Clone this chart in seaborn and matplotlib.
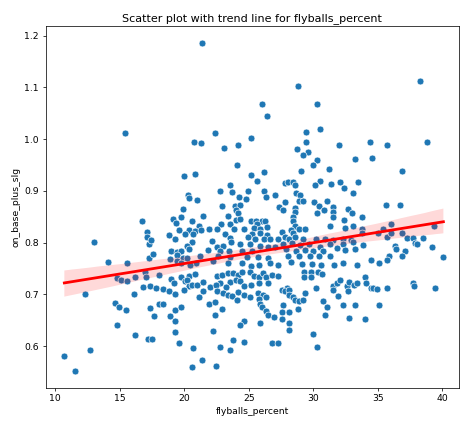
import numpy as np
import pandas as pd
import matplotlib
matplotlib.use("Agg")
import matplotlib.pyplot as plt
import seaborn as sns

flyballs_percent = [
    21.37, 38.27, 28.79, 26.02, 30.29, 26.39, 15.38, 22.38, 29.41, 30.50, 25.17,
    16.70, 17.11, 17.11, 17.29, 12.98, 14.09, 15.58, 17.29, 14.81, 15.07, 15.58, 16.20, 16.95,
    17.03, 16.80, 17.34, 12.30, 16.12, 14.60, 14.91, 15.48, 17.34, 14.81, 16.20, 17.19, 12.71,
    10.70, 11.53,
    20.75, 21.27, 19.98, 20.81, 20.29, 20.35, 21.01, 19.92, 19.10, 19.72, 20.60, 21.47, 19.36,
    21.12, 19.61, 20.39, 20.81, 21.27, 21.89, 18.79, 20.08, 20.65, 17.44, 19.30, 20.60, 22.12,
    20.19, 18.99, 19.41, 19.77, 20.39, 21.86, 17.55, 19.46, 21.22, 18.89, 19.88, 20.23, 20.91,
    19.41, 19.72, 20.44, 22.20,
    23.10, 24.19, 24.09, 25.17, 25.64, 26.20, 23.52, 22.79, 23.67, 24.91, 26.20, 27.03, 26.31,
    24.24, 24.76, 22.95, 23.93, 24.29, 24.03, 24.14, 27.34, 23.41, 23.98, 24.34, 25.17, 25.53,
    26.00, 26.26, 22.85, 23.57, 25.64, 22.53, 23.83, 24.65, 25.43, 25.89, 26.41, 23.16, 25.22,
    25.84, 26.41, 23.52, 24.91, 25.48, 26.16, 26.67, 27.29, 23.62, 24.29, 25.12, 22.53, 23.00,
    25.84, 26.51, 27.03, 22.79, 23.47, 24.50, 25.22, 22.59, 23.57, 24.86, 25.74, 26.51, 23.36,
    24.45, 25.17, 25.79, 26.62, 27.24,
    29.43, 28.71, 29.59, 29.18, 32.02, 30.26, 29.95, 29.07, 31.19, 30.52, 31.40, 32.07, 27.79,
    28.04, 28.45, 28.56, 30.16, 32.38, 28.66, 28.97, 27.83, 28.87, 29.22, 30.05, 30.47, 30.83,
    31.09, 31.50, 31.55, 32.69, 27.63, 28.56, 28.60, 30.26, 28.45, 31.55, 28.40, 32.38, 28.56,
    31.30, 27.57, 28.29, 28.45, 28.87, 29.33, 32.48, 27.79, 28.09, 28.60, 29.22, 30.21, 30.88,
    31.55, 32.28, 27.67, 28.35, 28.97, 29.64, 30.52, 31.30, 32.28, 27.89, 28.66, 29.33, 29.95,
    30.78, 31.81, 32.48, 28.04, 28.87, 29.74, 30.47, 31.30, 28.29, 29.12, 29.90, 30.62, 31.60,
    32.33,
    34.40, 35.69, 38.79, 33.26, 34.55, 36.88, 33.47, 33.10, 35.64, 36.72, 33.00, 33.78, 33.10,
    33.78, 33.78, 35.43, 36.00, 35.02, 35.69, 36.00, 36.88, 37.29, 37.71, 38.48, 39.36, 32.90,
    33.05, 37.86, 38.06, 33.88, 33.26, 36.31, 36.41, 37.09, 39.20, 40.08, 35.89, 36.88, 35.74,
    34.50, 35.12, 33.36,
    18.02, 18.95, 19.72, 20.03, 20.34, 20.81, 20.23, 20.34, 20.60, 21.01, 21.43, 21.47, 21.99,
    17.81, 18.37, 18.84, 19.20, 19.26, 19.98, 21.12, 18.06, 18.37, 17.65, 19.30, 19.72, 18.89,
    19.30, 21.89, 19.30, 22.20, 17.50, 19.61, 20.65, 21.37, 20.60,
    22.53, 22.95, 23.36, 23.78, 24.19, 24.45, 25.12, 25.43, 25.79, 26.10, 26.31, 26.77, 27.24,
    22.79, 22.43, 23.52, 23.26, 23.98, 24.34, 24.65, 25.17, 25.79, 26.46, 22.53, 23.00, 23.41,
    24.19, 24.60, 25.07, 25.69, 26.10, 26.36, 23.67, 24.09, 25.79, 22.38, 25.84, 26.00, 26.31,
    26.51, 26.98, 22.38, 22.90, 24.65, 24.34, 25.89, 23.78, 24.60, 23.52, 22.79, 26.77, 27.29,
    22.48,
    29.28, 29.80, 30.36, 30.67, 29.28, 29.84, 27.94, 27.57, 27.83, 28.14, 28.09, 28.45, 28.56,
    28.87, 29.18, 29.38, 30.21, 30.73, 31.04, 30.88, 31.50, 31.50, 31.81, 32.07, 32.59, 32.74,
    32.69, 31.91, 32.28, 32.74, 27.67, 27.57, 28.09, 27.57, 28.81, 28.09, 28.09, 29.95, 30.31,
    33.16, 33.41, 33.98, 34.09, 34.45, 34.61, 34.92, 35.69, 37.71, 37.81, 39.46, 33.26, 35.12,
    33.98,
]

on_base_plus_slg = [
    1.186, 1.112, 1.103, 1.068, 1.067, 1.044, 1.012, 1.012, 1.014, 1.020, 1.003,
    0.842, 0.820, 0.811, 0.797, 0.801, 0.763, 0.760, 0.771, 0.731, 0.727, 0.726, 0.733, 0.743,
    0.734, 0.714, 0.716, 0.700, 0.700, 0.684, 0.675, 0.669, 0.674, 0.640, 0.621, 0.613, 0.592,
    0.581, 0.551,
    0.995, 0.992, 0.928, 0.933, 0.892, 0.887, 0.882, 0.865, 0.845, 0.849, 0.842, 0.851, 0.838,
    0.832, 0.824, 0.824, 0.822, 0.824, 0.826, 0.815, 0.816, 0.816, 0.805, 0.807, 0.802, 0.803,
    0.793, 0.784, 0.782, 0.784, 0.787, 0.786, 0.778, 0.776, 0.775, 0.769, 0.771, 0.770, 0.760,
    0.765, 0.761, 0.756, 0.765,
    0.983, 0.988, 0.950, 0.930, 0.920, 0.936, 0.912, 0.900, 0.898, 0.900, 0.899, 0.892, 0.889,
    0.889, 0.884, 0.871, 0.871, 0.873, 0.863, 0.858, 0.869, 0.851, 0.844, 0.845, 0.842, 0.842,
    0.841, 0.841, 0.836, 0.836, 0.836, 0.827, 0.826, 0.826, 0.828, 0.826, 0.831, 0.816, 0.817,
    0.818, 0.814, 0.809, 0.811, 0.807, 0.806, 0.807, 0.807, 0.801, 0.798, 0.797, 0.791, 0.793,
    0.793, 0.791, 0.792, 0.783, 0.784, 0.783, 0.783, 0.774, 0.773, 0.773, 0.773, 0.771, 0.760,
    0.760, 0.755, 0.756, 0.760, 0.757,
    0.994, 0.981, 0.976, 0.969, 0.988, 0.960, 0.949, 0.938, 0.942, 0.920, 0.913, 0.917, 0.916,
    0.917, 0.918, 0.911, 0.912, 0.905, 0.896, 0.892, 0.878, 0.880, 0.881, 0.878, 0.871, 0.863,
    0.880, 0.868, 0.860, 0.864, 0.863, 0.867, 0.860, 0.858, 0.850, 0.850, 0.841, 0.844, 0.832,
    0.833, 0.820, 0.824, 0.819, 0.826, 0.826, 0.829, 0.810, 0.807, 0.811, 0.806, 0.807, 0.807,
    0.805, 0.807, 0.798, 0.800, 0.795, 0.798, 0.791, 0.797, 0.797, 0.787, 0.783, 0.786, 0.783,
    0.783, 0.789, 0.786, 0.775, 0.775, 0.774, 0.774, 0.774, 0.762, 0.758, 0.758, 0.756, 0.757,
    0.760,
    0.994, 0.988, 0.994, 0.962, 0.964, 0.938, 0.917, 0.896, 0.873, 0.872, 0.858, 0.849, 0.832,
    0.827, 0.818, 0.827, 0.836, 0.818, 0.810, 0.818, 0.818, 0.809, 0.809, 0.809, 0.832, 0.805,
    0.801, 0.800, 0.797, 0.796, 0.788, 0.793, 0.788, 0.783, 0.792, 0.773, 0.774, 0.774, 0.767,
    0.766, 0.761, 0.756,
    0.737, 0.730, 0.733, 0.725, 0.735, 0.739, 0.727, 0.717, 0.718, 0.718, 0.724, 0.706, 0.715,
    0.713, 0.711, 0.707, 0.722, 0.700, 0.709, 0.694, 0.682, 0.681, 0.659, 0.669, 0.676, 0.659,
    0.649, 0.681, 0.628, 0.629, 0.613, 0.606, 0.597, 0.574, 0.560,
    0.735, 0.737, 0.742, 0.742, 0.738, 0.744, 0.743, 0.735, 0.733, 0.742, 0.733, 0.738, 0.735,
    0.721, 0.718, 0.724, 0.715, 0.727, 0.726, 0.716, 0.718, 0.721, 0.721, 0.707, 0.703, 0.699,
    0.704, 0.698, 0.695, 0.702, 0.699, 0.695, 0.697, 0.689, 0.691, 0.685, 0.682, 0.676, 0.668,
    0.660, 0.656, 0.660, 0.671, 0.649, 0.641, 0.645, 0.611, 0.608, 0.592, 0.598, 0.606, 0.605,
    0.562,
    0.744, 0.744, 0.744, 0.740, 0.734, 0.734, 0.713, 0.708, 0.707, 0.708, 0.699, 0.694, 0.690,
    0.687, 0.690, 0.703, 0.713, 0.687, 0.675, 0.660, 0.717, 0.709, 0.722, 0.727, 0.716, 0.724,
    0.706, 0.697, 0.679, 0.654, 0.679, 0.666, 0.666, 0.653, 0.672, 0.645, 0.631, 0.624, 0.598,
    0.718, 0.722, 0.734, 0.722, 0.713, 0.713, 0.711, 0.713, 0.722, 0.716, 0.713, 0.679, 0.680,
    0.653,
]

title = "Scatter plot with trend line for flyballs_percent"
x_label = "flyballs_percent"
y_label = "on_base_plus_slg"

df = pd.DataFrame({x_label: flyballs_percent, y_label: on_base_plus_slg})

DPI = 66.4
fig = plt.figure(figsize=(461 / DPI, 428 / DPI), dpi=DPI)
ax = fig.add_axes([45.5 / 461, 1 - 388 / 428, (459 - 45.5) / 461, (388 - 26.3) / 428])

sns.scatterplot(data=df, x=x_label, y=y_label, ax=ax, s=56,
                color="#1f77b4", edgecolor="white", linewidth=0.7)
sns.regplot(data=df, x=x_label, y=y_label, ax=ax, scatter=False, color="red",
            line_kws={"linewidth": 3}, seed=0)

ax.set_xlim(9.24, 41.29)
ax.set_ylim(0.519, 1.218)
ax.set_title(title)
ax.set_xlabel(x_label)
ax.set_ylabel(y_label)

fig.savefig("out.png", dpi=DPI)
